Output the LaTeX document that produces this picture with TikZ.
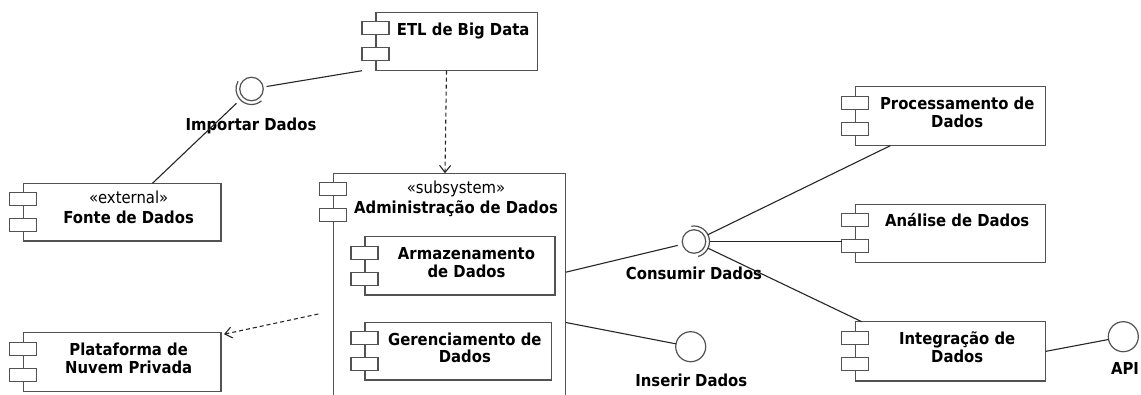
\documentclass[tikz,border=0pt]{standalone}
\usepackage{fontspec}
\setmainfont{DejaVu Sans}[FakeStretch=0.9]
\usetikzlibrary{calc,arrows.meta}

% several centred lines whose first baseline is the reference point
\newcommand\stackedlines[1]{\begin{tabular}[t]{@{}c@{}}#1\end{tabular}}

% UML component: name, left, top, width, height, first baseline, text
\newcommand\umlpart[7]{%
  \node[compbox, minimum width=#4pt, minimum height=#5pt] (#1) at (#2,#3) {};
  \node[tabbox] (#1-a) at ($(#1.north west)+(-14,9.5)$) {};
  \node[tabbox] (#1-b) at ($(#1.north west)+(-14,35.5)$) {};
  \node[comptext] (#1-t) at ($(#1.north west)+({(#4+13)/2},#6)$) {\stackedlines{#7}};
}

\tikzset{
  edgecol/.style={draw=black!68},
  compbox/.style={edgecol, line width=1.3pt, fill=white, rectangle,
    inner sep=0, outer sep=0, anchor=north west},
  tabbox/.style={edgecol, line width=1.3pt, fill=white, rectangle,
    minimum width=27pt, minimum height=13pt, inner sep=0, outer sep=0,
    anchor=north west},
  comptext/.style={anchor=base, inner sep=0,
    font=\bfseries\fontsize{16.5}{17.7}\selectfont},
  lbl/.style={anchor=base, inner sep=0,
    font=\bfseries\fontsize{16.5}{17.7}\selectfont},
  ball/.style={circle, edgecol, line width=1.2pt, fill=white,
    minimum size=23.5pt, inner sep=0, outer sep=0},
  iface/.style={ball, minimum size=30pt},
  socket/.style={edgecol, line width=1.2pt},
  conn/.style={draw=black!85, line width=1.1pt},
  dep/.style={conn, dash pattern=on 4pt off 3pt,
    -{Straight Barb[length=7pt,width=11pt]}},
}

\begin{document}
\begin{tikzpicture}[x=1pt,y=-1pt]
\useasboundingbox (0,0) rectangle (1141,394);
\fill[white] (0,0) rectangle (1141,394);
\clip (0,0) rectangle (1141,394);

% components
\umlpart{etl}{376}{12.3}{161.4}{58.4}{22.7}{ETL de Big Data}
\umlpart{fonte}{23.3}{183.3}{197.7}{57.7}{20.3}{{\mdseries «external»}\\[1.8pt]Fonte de Dados}
\umlpart{plat}{23.3}{332.7}{197.7}{59}{23}{Plataforma de\\Nuvem Privada}
\umlpart{admin}{333.3}{173.3}{232.4}{253.4}{19.8}{{\mdseries «subsystem»}\\[1.8pt]Administração de Dados}
\umlpart{arm}{365}{236.7}{190}{58.3}{22.6}{Armazenamento\\de Dados}
\umlpart{ger}{365}{322.3}{186.7}{57.7}{22.8}{Gerenciamento de\\Dados}
\umlpart{proc}{855.7}{86.7}{190}{59}{22.6}{Processamento de\\Dados}
\umlpart{anl}{855.7}{204.3}{190}{58}{22.6}{Análise de Dados}
\umlpart{integ}{855.7}{321.7}{190}{59.3}{22.6}{Integração de\\Dados}

% interfaces
\node[ball] (importar) at (251.5,89) {};
\draw[socket] (importar.center) ++(50:15.5) arc[start angle=50, end angle=210, radius=15.5];
\node[ball] (consumir) at (694,241.5) {};
\draw[socket] (consumir.center) ++(-100:15.5) arc[start angle=-100, end angle=75, radius=15.5];
\node[iface] (inserir) at (690.7,346.7) {};
\node[iface] (api) at (1123.3,336.7) {};

\node[lbl] (importar-l) at (251,130) {Importar Dados};
\node[lbl] (consumir-l) at (694,279.3) {Consumir Dados};
\node[lbl] (inserir-l) at (691.3,386) {Inserir Dados};
\node[lbl] (api-l) at (1125,374.3) {API};

% connectors
\draw[conn, shorten <=3.5pt] (importar) -- ($(etl.south west)+(-14,0)$);
\draw[conn, shorten <=9pt] (importar) -- (fonte);
\draw[conn, shorten >=5pt] (admin) -- (consumir);
\draw[conn, shorten <=4pt] (consumir) -- (proc);
\draw[conn, shorten <=4pt] (consumir) -- (consumir -| anl-b.west);
\draw[conn, shorten <=4pt] (consumir) -- ($(integ.north west)+(6,0)$);
\draw[conn] (admin) -- (inserir);
\draw[conn] (integ.east) -- (api);

% dependencies
\draw[dep] ($(etl.south west)+(70.5,0)$) -- ($(admin.north west)+(111.7,0)$);
\draw[dep] ($(admin.north west)+(-15,140.7)$) -- ($(plat.north east)+(3,1.5)$);
\end{tikzpicture}
\end{document}
